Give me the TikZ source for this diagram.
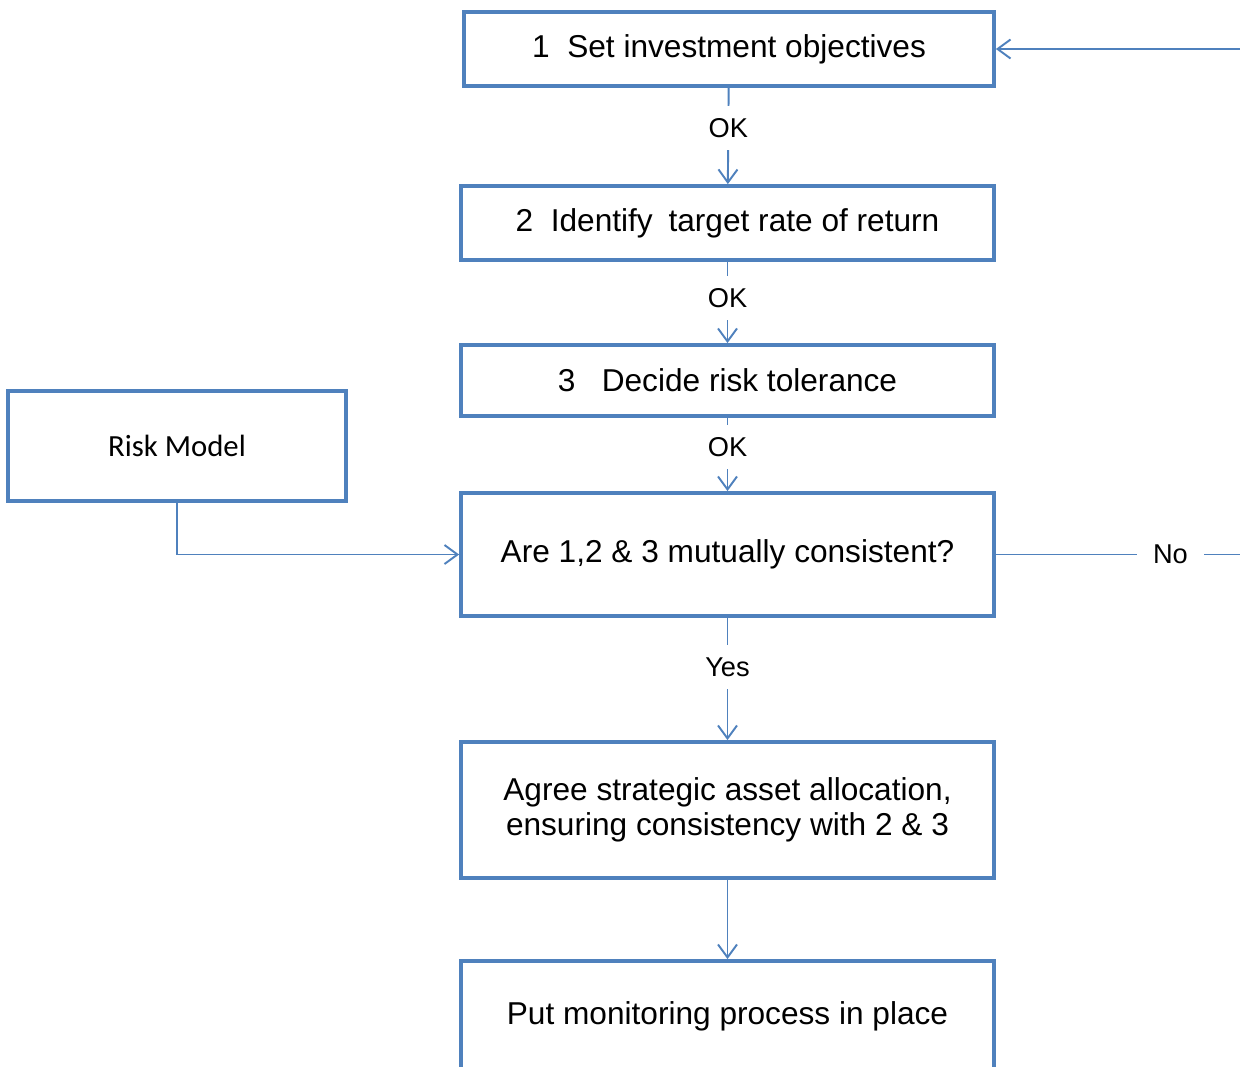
\documentclass[tikz,border=0pt]{standalone}
\usepackage{fontspec}
\setmainfont{Liberation Sans}
\newfontfamily\riskfont{Carlito}
\usetikzlibrary{arrows.meta}
\definecolor{boxblue}{RGB}{79,129,189}
\begin{document}
\begin{tikzpicture}[x=0.02cm,y=-0.02cm,
  stepbox/.style={draw=boxblue,line width=2.2pt,minimum width=10.66cm,align=center,
    font=\fontsize{18}{20}\selectfont},
  link/.style={draw=boxblue,line width=1.1pt,-{Straight Barb[length=0.26cm,width=0.38cm]}},
  lbl/.style={fill=white,inner xsep=9pt,inner ysep=7pt,font=\fontsize{15.5}{18}\selectfont}]
\clip (0,0) rectangle (1240,1066);
% the steps, top to bottom
\node[stepbox,minimum width=10.6cm,minimum height=1.48cm] (obj) at (729,49) {1\ \ Set investment objectives};
\node[stepbox,minimum height=1.48cm] (ret) at (727.5,223) {2\ \ Identify\hspace{0.5em}target rate of return};
\node[stepbox,minimum height=1.42cm] (tol) at (727.5,380.5) {3\ \ \ Decide risk tolerance};
\node[stepbox,minimum height=2.46cm] (cons) at (727.5,554.5) {Are 1,2 \& 3 mutually consistent?};
\node[stepbox,minimum height=2.72cm] (saa) at (727.5,810) {Agree strategic asset allocation,\\ensuring consistency with 2 \& 3};
\node[stepbox,minimum height=2.2cm] (mon) at (727.5,1016) {Put monitoring process in place};
\node[stepbox,minimum width=6.76cm,minimum height=2.2cm,font=\fontsize{17.5}{20}\riskfont] (risk) at (177,446) {Risk Model};
% loop back, runs off the right edge
\coordinate (noend) at (1240,554.5);
\coordinate (back) at (1240,49);
\path[link] (obj) -- node[lbl,pos=.42] {OK} (ret);
\path[link] (ret) -- node[lbl,pos=.44] {OK} (tol);
\path[link] (tol) -- node[lbl,pos=.4] {OK} (cons);
\path[link] (cons) -- node[lbl,pos=.4] {Yes} (saa);
\path[link] (saa) -- (mon);
\path[link] (risk.south) |- (cons.west);
\path[draw=boxblue,line width=1.1pt] (cons.east) -- node[lbl,pos=.715] {No} (noend);
\path[link] (back) -- (obj.east);
\end{tikzpicture}
\end{document}
